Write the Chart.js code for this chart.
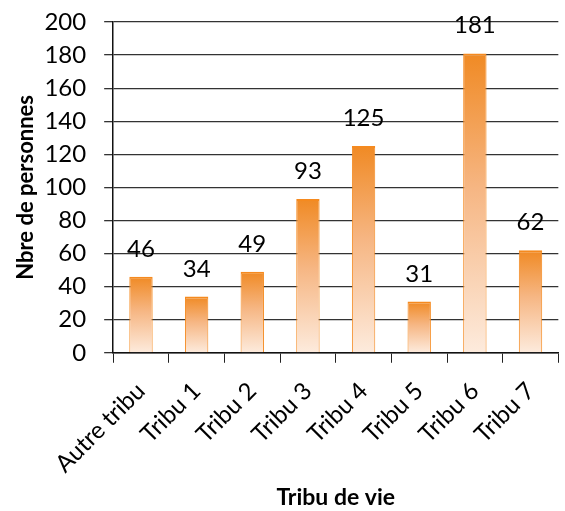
<!DOCTYPE html>
<html>
<head>
<meta charset="utf-8">
<script src="https://cdn.jsdelivr.net/npm/chart.js@4.4.1/dist/chart.umd.min.js"></script>
<style>
  html, body { margin: 0; padding: 0; background: #fff; }
  #wrap { width: 565px; height: 511px; }
</style>
</head>
<body>
<div id="wrap"><canvas id="chartTribu"></canvas></div>
<script>
// ------------------------------ DATA ------------------------------
const categories = ['Autre tribu', 'Tribu 1', 'Tribu 2', 'Tribu 3', 'Tribu 4', 'Tribu 5', 'Tribu 6', 'Tribu 7'];
const personnes = [46, 34, 49, 93, 125, 31, 181, 62];
const yTicks = [0, 20, 40, 60, 80, 100, 120, 140, 160, 180, 200];

const fontFamily = 'Lato, "Open Sans", sans-serif';

// degrade orange par barre (haut fonce -> bas clair)
function barGradient(context) {
    const chart = context.chart;
    const yScale = chart.scales.y;
    if (!chart.chartArea || !yScale) return '#f4a460';
    const v = context.raw;
    const top = yScale.getPixelForValue(v);
    const bottom = yScale.getPixelForValue(0);
    const g = chart.ctx.createLinearGradient(0, top, 0, bottom);
    g.addColorStop(0, '#f08a24');
    g.addColorStop(0.45, '#f6b683');
    g.addColorStop(1, '#fdebdd');
    return g;
}

// plugin kecil untuk label nilai di atas bar
const valueLabels = {
    id: 'valueLabels',
    afterDatasetsDraw(chart) {
        const ctx = chart.ctx;
        const meta = chart.getDatasetMeta(0);
        ctx.save();
        ctx.font = '24px ' + fontFamily;
        ctx.fillStyle = '#000';
        ctx.textAlign = 'center';
        ctx.textBaseline = 'alphabetic';
        meta.data.forEach((bar, i) => {
            ctx.fillText(String(personnes[i]), bar.x, bar.y - 20);
        });
        ctx.restore();
    }
};

new Chart(document.getElementById('chartTribu'), {
    type: 'bar',
    data: {
        labels: categories,
        datasets: [{
            data: personnes,
            backgroundColor: barGradient,
            borderColor: '#f58a1f',
            borderWidth: { top: 2, left: 1, right: 1, bottom: 0 },
            categoryPercentage: 1,
            barPercentage: 0.42
        }]
    },
    options: {
        responsive: true,
        maintainAspectRatio: false,
        animation: false,
        layout: { padding: { top: 0, right: 2, left: 13, bottom: 0 } },
        plugins: {
            legend: { display: false },
            tooltip: { enabled: false }
        },
        scales: {
            x: {
                grid: {
                    offset: true,
                    drawOnChartArea: false,
                    drawTicks: true,
                    tickLength: 10,
                    color: '#222'
                },
                border: { color: '#111', width: 1.5 },
                ticks: {
                    color: '#000',
                    font: { family: fontFamily, size: 24 },
                    minRotation: 45,
                    maxRotation: 45,
                    padding: 14
                },
                title: {
                    display: true,
                    text: 'Tribu de vie',
                    color: '#000',
                    font: { family: fontFamily, size: 23, weight: 'bold' },
                    padding: { top: -9, bottom: 0 }
                }
            },
            y: {
                min: 0,
                max: 200,
                afterBuildTicks: axis => { axis.ticks = yTicks.map(v => ({ value: v })); },
                afterFit: scale => { scale.paddingTop = 22; },
                grid: {
                    color: '#333',
                    lineWidth: 1.3,
                    tickLength: 9
                },
                border: { color: '#111', width: 1.5 },
                ticks: {
                    color: '#000',
                    font: { family: fontFamily, size: 24 },
                    padding: 18,
                    autoSkip: false
                },
                title: {
                    display: true,
                    text: 'Nbre de personnes',
                    color: '#000',
                    font: { family: fontFamily, size: 22, weight: 'bold' },
                    padding: { top: 0, bottom: -13 }
                }
            }
        }
    },
    plugins: [valueLabels]
});
</script>
</body>
</html>
